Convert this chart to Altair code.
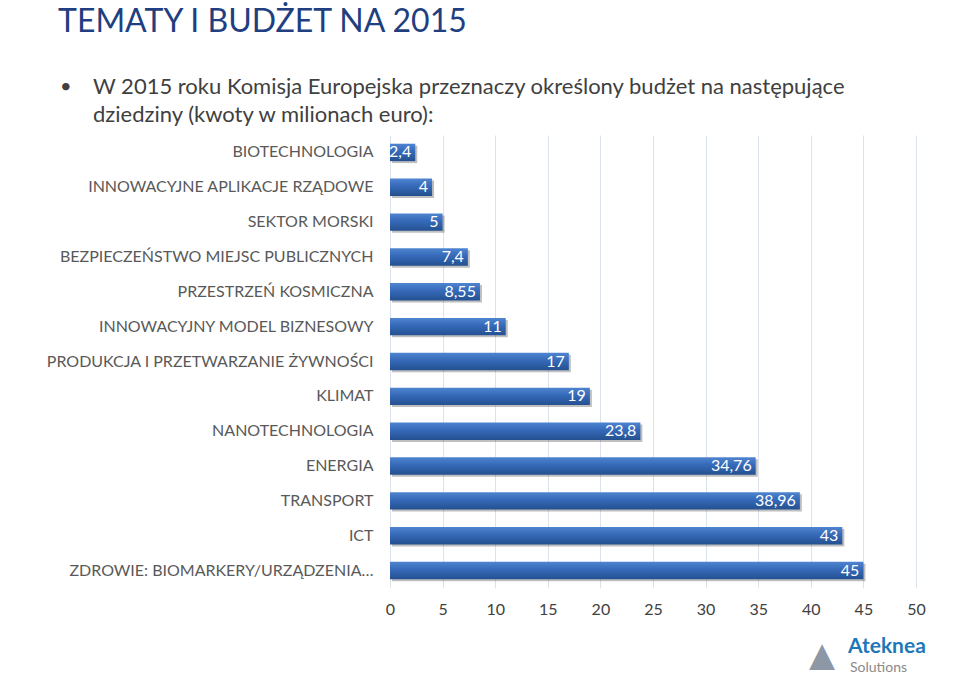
import altair as alt
import pandas as pd

categories = [
    "BIOTECHNOLOGIA",
    "INNOWACYJNE APLIKACJE RZĄDOWE",
    "SEKTOR MORSKI",
    "BEZPIECZEŃSTWO MIEJSC PUBLICZNYCH",
    "PRZESTRZEŃ KOSMICZNA",
    "INNOWACYJNY MODEL BIZNESOWY",
    "PRODUKCJA I PRZETWARZANIE ŻYWNOŚCI",
    "KLIMAT",
    "NANOTECHNOLOGIA",
    "ENERGIA",
    "TRANSPORT",
    "ICT",
    "ZDROWIE: BIOMARKERY/URZĄDZENIA…",
]
values = [2.4, 4, 5, 7.4, 8.55, 11, 17, 19, 23.8, 34.76, 38.96, 43, 45]
value_labels = ["2,4", "4", "5", "7,4", "8,55", "11", "17", "19", "23,8",
                "34,76", "38,96", "43", "45"]
x_ticks = [0, 5, 10, 15, 20, 25, 30, 35, 40, 45, 50]

title_text = "TEMATY I BUDŻET NA 2015"
bullet_lines = [
    "W 2015 roku Komisja Europejska przeznaczy określony budżet na następujące",
    "dziedziny (kwoty w milionach euro):",
]

FONT = "Lato"
df = pd.DataFrame({"cat": categories, "val": values, "lab": value_labels})

y_enc = alt.Y("cat:N", sort=categories, title=None,
              scale=alt.Scale(paddingInner=0.5, paddingOuter=0.25),
              axis=alt.Axis(domain=False, ticks=False, grid=False, labelPadding=17,
                            labelFontSize=16, labelColor="#595959", labelFont=FONT,
                            labelLimit=400))
x_enc = alt.X("val:Q", title=None,
              scale=alt.Scale(domain=[0, 50], nice=False),
              axis=alt.Axis(values=x_ticks, domain=False, ticks=False, grid=True,
                            gridColor="#dde3ea", labelFontSize=16, labelColor="#404040",
                            labelFont=FONT, labelPadding=13, labelFlush=False))

base = alt.Chart(df)

shadow = base.mark_bar(color="#000000", opacity=0.25, xOffset=2, yOffset=2).encode(
    x=x_enc, y=y_enc)

grad = alt.Gradient(gradient="linear", x1=0, x2=0, y1=0, y2=1,
                    stops=[alt.GradientStop(color="#4f84d0", offset=0),
                           alt.GradientStop(color="#3569b8", offset=0.45),
                           alt.GradientStop(color="#24508f", offset=1)])
bars = base.mark_bar(color=grad).encode(x=x_enc, y=y_enc)

texts = base.mark_text(align="right", dx=-4, color="white", fontSize=16,
                       font=FONT).encode(x="val:Q", y=alt.Y("cat:N", sort=categories),
                                         text="lab:N")

one = pd.DataFrame({"d": [0]})
title = alt.Chart(one).mark_text(text=title_text, align="left", baseline="middle",
                                 fontSize=32, font=FONT, color="#1f3f80").encode(
    x=alt.value(-332), y=alt.value(-113))
dot = alt.Chart(one).mark_text(text="•", align="left", baseline="middle",
                               fontSize=20, font=FONT, color="#404040").encode(
    x=alt.value(-330), y=alt.value(-48))
line1 = alt.Chart(one).mark_text(text=bullet_lines[0], align="left", baseline="middle",
                                 fontSize=22, font=FONT, color="#404040").encode(
    x=alt.value(-297), y=alt.value(-48))
line2 = alt.Chart(one).mark_text(text=bullet_lines[1], align="left", baseline="middle",
                                 fontSize=22, font=FONT, color="#404040").encode(
    x=alt.value(-297), y=alt.value(-20))

logo_tri = alt.Chart(one).mark_text(text="▲", align="center", baseline="middle",
                                    fontSize=44, color="#8c98a6").encode(
    x=alt.value(432), y=alt.value(522))
logo1 = alt.Chart(one).mark_text(text="Ateknea", align="left", baseline="middle",
                                 fontSize=21, fontWeight="bold", font=FONT,
                                 color="#1e78b8").encode(
    x=alt.value(458), y=alt.value(512))
logo2 = alt.Chart(one).mark_text(text="Solutions", align="left", baseline="middle",
                                 fontSize=14, font=FONT, color="#8a8a8a").encode(
    x=alt.value(460), y=alt.value(533))

chart = alt.layer(shadow, bars, texts, title, dot, line1, line2,
                  logo_tri, logo1, logo2).properties(
    width=526, height=453,
    autosize=alt.AutoSizeParams(type="none"),
    padding={"left": 390, "top": 135, "right": 43, "bottom": 96},
    background="white",
).configure_view(stroke=None)

chart.save("out.html", embed_options={"renderer": "svg", "actions": False})
